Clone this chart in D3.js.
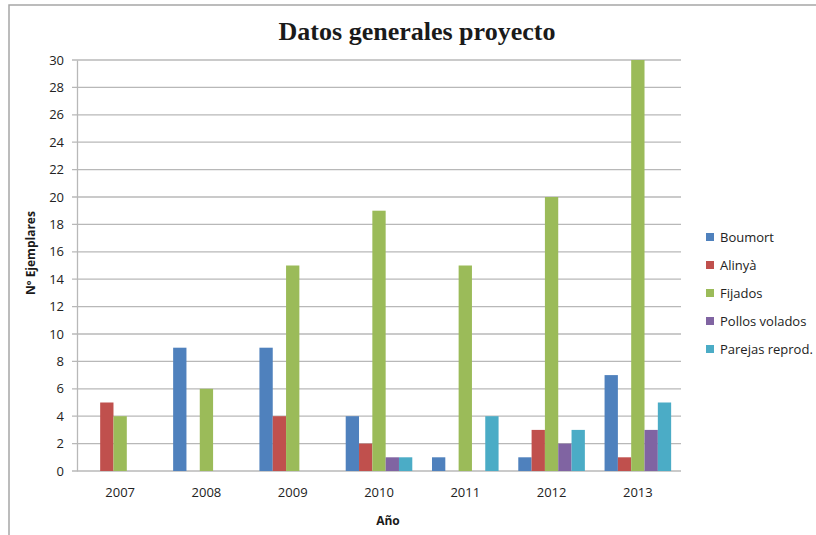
<!DOCTYPE html>
<html>
<head>
<meta charset="utf-8">
<script src="https://cdn.jsdelivr.net/npm/d3@7"></script>
<style>
  body { margin: 0; background: #fff; }
  svg { display: block; font-family: "Open Sans", "Liberation Sans", sans-serif; }
</style>
</head>
<body>
<svg id="chart" width="816" height="535"></svg>
<script>
// años y series
var years = ["2007", "2008", "2009", "2010", "2011", "2012", "2013"];
var seriesNames = ["Boumort", "Alinyà", "Fijados", "Pollos volados", "Parejas reprod."];
var boumort  = [0, 9, 9, 4, 1, 1, 7];
var alinya   = [5, 0, 4, 2, 0, 3, 1];
var fijados  = [4, 6, 15, 19, 15, 20, 30];
var pollos   = [0, 0, 0, 1, 0, 2, 3];
var parejas  = [0, 0, 0, 1, 4, 3, 5];
var yTicks = [0, 2, 4, 6, 8, 10, 12, 14, 16, 18, 20, 22, 24, 26, 28, 30];
var colors = ["#4F81BD", "#C0504D", "#9BBB59", "#8064A2", "#4BACC6"];

var allSeries = [boumort, alinya, fijados, pollos, parejas];
var rows = [];
years.forEach(function (y, i) {
    allSeries.forEach(function (s, j) {
        rows.push({ year: y, series: seriesNames[j], value: s[i], k: j });
    });
});

var svg = d3.select("#chart");
var font = "'Open Sans', 'Liberation Sans', sans-serif";

// marco exterior
svg.append("path")
    .attr("d", "M9,535 V5 H816")
    .attr("fill", "none")
    .attr("stroke", "#a6a6a6")
    .attr("stroke-width", 1.5);

var plotLeft = 77, plotRight = 681, plotTop = 60, plotBottom = 471;

var x = d3.scaleBand().domain(years).range([plotLeft, plotRight]);
var x1 = d3.scaleBand().domain(seriesNames)
    .range([0, x.bandwidth()]).paddingOuter(0.74);
var y = d3.scaleLinear().domain([0, 30]).range([plotBottom, plotTop]);

// lineas de division
svg.append("g").selectAll("line")
    .data(yTicks)
    .enter().append("line")
    .attr("x1", plotLeft - 5)
    .attr("x2", plotRight)
    .attr("y1", d => y(d))
    .attr("y2", d => y(d))
    .attr("stroke", "#b8b8b8")
    .attr("stroke-width", 1.3);

var yAxis = svg.append("g")
    .attr("transform", `translate(${plotLeft},0)`)
    .call(d3.axisLeft(y).tickValues(yTicks).tickSize(0).tickPadding(13));
yAxis.attr("font-family", font);
yAxis.select(".domain").attr("stroke", "#b8b8b8").attr("stroke-width", 1.3);
yAxis.selectAll("text").attr("font-size", 13).attr("fill", "#222");

// barras
svg.append("g").selectAll("rect")
    .data(rows.filter(d => d.value > 0))
    .enter().append("rect")
    .attr("x", d => x(d.year) + x1(d.series))
    .attr("width", x1.bandwidth())
    .attr("y", d => y(d.value))
    .attr("height", d => y(0) - y(d.value))
    .attr("fill", d => colors[d.k]);

var xAxis = svg.append("g")
    .attr("transform", `translate(0,${plotBottom})`)
    .call(d3.axisBottom(x).tickSize(0).tickPadding(17));
xAxis.attr("font-family", font);
xAxis.select(".domain").remove();
xAxis.selectAll("text").attr("font-size", 13).attr("fill", "#222");

// titulos
svg.append("text")
    .attr("x", 417)
    .attr("y", 40)
    .attr("text-anchor", "middle")
    .attr("font-family", "'Liberation Serif', 'DejaVu Serif', serif")
    .attr("font-weight", "bold")
    .attr("font-size", 26)
    .attr("fill", "#1a1a1a")
    .text("Datos generales proyecto");

svg.append("text")
    .attr("transform", "translate(35,253) rotate(-90)")
    .attr("text-anchor", "middle")
    .attr("font-weight", "bold")
    .attr("font-size", 12)
    .attr("fill", "#1a1a1a")
    .text("Nº Ejemplares");

svg.append("text")
    .attr("x", 388)
    .attr("y", 525)
    .attr("text-anchor", "middle")
    .attr("font-weight", "bold")
    .attr("font-size", 12)
    .attr("fill", "#1a1a1a")
    .text("Año");

// leyenda
var legend = svg.append("g").selectAll("g")
    .data(seriesNames)
    .enter().append("g")
    .attr("transform", (d, i) => `translate(706,${237 + i * 28})`);
legend.append("rect")
    .attr("x", 0).attr("y", -4)
    .attr("width", 8).attr("height", 8)
    .attr("fill", (d, i) => colors[i]);
legend.append("text")
    .attr("x", 14)
    .attr("dy", "0.35em")
    .attr("font-size", 13)
    .attr("fill", "#222")
    .text(d => d);
</script>
</body>
</html>
